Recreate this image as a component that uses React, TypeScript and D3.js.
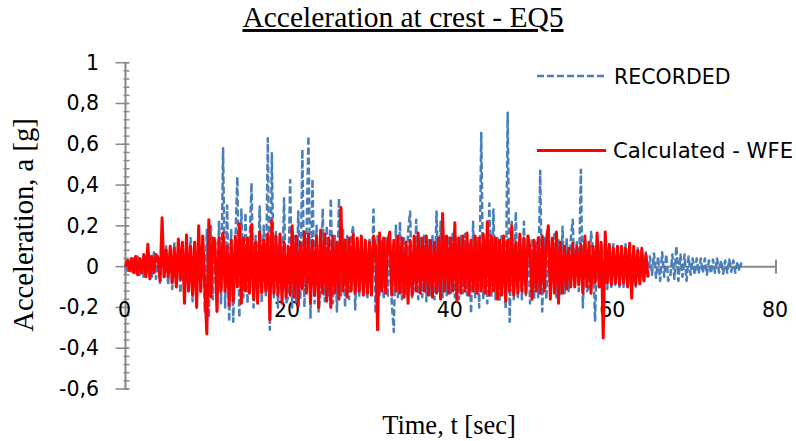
import * as d3 from "d3";

// sample step of both records, seconds
const dt = 0.25;

// recorded acceleration at crest [g], one row per second
const recorded = [
  0, -.02, .03, -.03,
  .04, -.03, .05, -.04,
  .04, -.06, .05, -.04,
  .06, -.05, .07, -.06,
  .05, -.08, .09, -.06,
  .1, -.09, .08, -.11,
  .12, -.1, .09, -.13,
  .11, -.15, .13, -.12,
  .14, -.17, .12, -.14,
  .16, -.13, .15, -.22,
  .18, -.25, .2, -.16,
  .15, -.2, .22, -.18,
  .58, -.2, .3, -.27,
  .18, -.27, .1, .44,
  -.25, .28, -.15, .265,
  -.18, .1, .41, -.2,
  .15, -.16, .295, -.18,
  .2, -.14, .63, -.31,
  .556, -.15, .17, -.2,
  .15, -.12, .335, -.18,
  -.15, .425, -.2, .15,
  -.18, .27, -.16, .575,
  -.2, .12, .64, -.25,
  .43, -.18, .2, -.22,
  -.12, .285, -.17, .2,
  -.15, .335, -.18, .15,
  -.22, .335, -.14, .18,
  -.2, .15, -.16, .14,
  .2, -.21, .13, -.15,
  .15, -.14, .12, -.16,
  .14, -.12, .28, -.23,
  .15, -.14, .13, -.16,
  .14, -.15, .12, -.18,
  -.32, .2, -.15, .22,
  -.16, .15, -.14, .17,
  .27, -.15, -.1, .23,
  -.16, .14, -.15, .16,
  -.17, .13, -.14, .15,
  -.16, .27, -.12, .22,
  -.15, .16, -.14, .15,
  -.13, .17, -.15, .14,
  -.16, .15, -.13, .16,
  -.14, .12, -.23, .22,
  -.15, .14, -.2, .66,
  -.16, .14, -.18, .31,
  -.15, .28, -.16, .14,
  -.17, .15, .1, -.21,
  .755, -.27, .22, -.16,
  .27, -.15, .14, -.16,
  .22, -.14, .15, -.18,
  .14, -.16, .13, -.15,
  .47, -.22, .14, -.16,
  .15, -.14, .12, .16,
  -.15, .13, -.14, .196,
  -.13, .14, -.12, .13,
  .23, -.1, .12, -.12,
  .475, -.2, .13, -.12,
  -.1, .17, .08, -.27,
  .12, -.1, .11, -.12,
  .1, -.11, .09, -.1,
  .11, -.09, .1, -.1,
  .09, -.1, .11, -.08,
  .1, -.09, .08, -.1,
  .09, -.08, .08, -.07,
  .07, -.05, .05, -.04,
  .065, -.055, .05, -.07,
  .07, -.05, .06, -.07,
  -.05, .06, -.06, .1,
  -.07, .06, -.05, .06,
  -.07, .05, -.04, .04,
  -.04, .04, -.035, .04,
  -.03, .04, -.04, .03,
  -.035, .035, -.03, .04,
  -.03, .03, -.035, .03,
  -.03, .035, -.025, .03,
  -.03, .025, -.02, .02,
];

// calculated - WFE [g]
const calculated = [
  0, .03, -.02, .04,
  -.03, .05, -.04, .04,
  -.03, .06, -.05, .11,
  -.06, .05, -.03, .06,
  .04, -.07, .24, -.05,
  .08, -.05, .1, -.08,
  .09, -.1, .135, -.06,
  .12, -.18, .155, -.12,
  .1, -.14, .12, -.2,
  .2, -.12, .15, -.1,
  -.33, .23, -.15, .14,
  .12, -.22, .14, -.12,
  .165, -.12, .1, -.19,
  .13, -.17, .15, -.1,
  .21, -.18, .14, -.12,
  .14, -.13, .205, -.16,
  .12, -.18, .17, -.13,
  .13, -.12, .16, -.26,
  .225, -.13, .15, -.14,
  .16, -.18, .12, -.15,
  .1, -.14, .2, -.15,
  .15, -.19, .12, -.11,
  .17, -.13, .16, -.18,
  .13, -.14, .15, -.2,
  .18, -.13, .16, -.17,
  .14, -.2, .15, -.13,
  .12, -.16, .29, -.12,
  .13, -.15, .14, -.12,
  .16, -.13, .14, -.12,
  .15, -.14, .13, -.13,
  .12, -.14, .15, .1,
  -.31, .165, -.12, .14,
  -.13, .12, .17, -.14,
  .13, -.12, .15, -.13,
  .14, -.15, .12, -.18,
  .13, -.14, .15, -.12,
  .165, -.13, .14, -.12,
  .15, -.14, .13, -.15,
  .12, -.13, .14, -.16,
  .26, -.12, .15, -.13,
  .14, -.12, .215, -.17,
  .14, -.13, .15, -.12,
  .165, -.14, .13, -.12,
  .15, -.13, .14, -.12,
  .16, -.13, .22, -.14,
  .15, -.12, .14, -.16,
  .13, -.14, .15, -.17,
  .13, -.12, .2, -.14,
  .12, -.13, .16, -.12,
  .14, -.13, .15, .09,
  -.16, .13, -.12, .14,
  -.13, .15, -.12, .13,
  .2, -.16, .14, -.13,
  .17, -.18, .12, -.13,
  .1, -.11, .09, -.1,
  .115, -.1, .1, -.09,
  .11, -.13, .15, -.1,
  .12, -.13, .1, -.08,
  .165, -.1, .12, -.35,
  .17, -.08, .11, -.09,
  .09, -.08, .1, -.09,
  .1, -.08, .09, -.1,
  .115, -.155, .1, -.09,
  .08, -.085, .09, -.07,
  .06, -.05,
];

const xTicks = [0, 20, 40, 60, 80];

const W = 796, H = 441;
const sans = "DejaVu Sans";
const serif = "Liberation Serif";
const axisColor = "#898989";

export default function App() {
  const x = d3.scaleLinear().domain([0, 80]).range([125.5, 776]);
  const y = d3.scaleLinear().domain([-0.6, 1]).range([389, 62.7]);

  const fmt = d3.formatLocale({ decimal: ",", thousands: ".", grouping: [3], currency: ["", ""], minus: "-" }).format(".1~f");

  const line = d3.line<number>()
    .x((d, i) => x(i * dt))
    .y(d => y(d));

  const yMajor = y.ticks(8);
  const yMinor = d3.range(-0.6, 1.0001, 0.04);

  return (
    <svg width={W} height={H} style={{ position: "absolute", left: 0, top: 0, background: "#fff" }}>
      <text x={403} y={27} textAnchor="middle" fontFamily={serif} fontSize={29.5} style={{ textDecoration: "underline" }}>
        Acceleration at crest - EQ5
      </text>

      {/* y axis */}
      <line x1={x(0)} x2={x(0)} y1={y(1)} y2={y(-0.6)} stroke={axisColor} strokeWidth={2} />
      {yMinor.map(v => (
        <line key={"m" + v} x1={x(0) - 2} x2={x(0) + 4} y1={y(v)} y2={y(v)} stroke={axisColor} strokeWidth={1.5} />
      ))}
      {yMajor.map(v => (
        <g key={"y" + v}>
          <line x1={x(0) - 10} x2={x(0) + 3} y1={y(v)} y2={y(v)} stroke={axisColor} strokeWidth={1.5} />
          <text x={99} y={y(v) + 7} textAnchor="end" fontFamily={sans} fontSize={20.5} fill="#000">{fmt(v)}</text>
        </g>
      ))}

      {/* x axis */}
      <line x1={x(0)} x2={x(80)} y1={y(0)} y2={y(0)} stroke={axisColor} strokeWidth={2} />
      {xTicks.map(v => (
        <g key={"x" + v}>
          <line x1={x(v)} x2={x(v)} y1={y(0) - 7} y2={y(0) + 7} stroke={axisColor} strokeWidth={2} />
          <text x={x(v) - 1} y={317} textAnchor="middle" fontFamily={sans} fontSize={20.5} fill="#000">{v}</text>
        </g>
      ))}

      <path d={line(recorded) ?? ""} fill="none" stroke="#4a7ebb" strokeWidth={2.5} strokeDasharray="7 3" strokeLinejoin="round" />
      <path d={line(calculated) ?? ""} fill="none" stroke="#ff0000" strokeWidth={3} strokeLinejoin="round" />

      {/* legend */}
      <line x1={537} x2={606} y1={76} y2={76} stroke="#4a7ebb" strokeWidth={2.5} strokeDasharray="7 3" />
      <text x={614} y={83.5} fontFamily={sans} fontSize={20.5}>RECORDED</text>
      <line x1={537} x2={606} y1={150.5} y2={150.5} stroke="#ff0000" strokeWidth={3} />
      <text x={613} y={158} fontFamily={sans} fontSize={21.2}>Calculated - WFE</text>

      <text transform="translate(33,225) rotate(-90)" textAnchor="middle" fontFamily={serif} fontSize={28.6}>
        Acceleration, a [g]
      </text>
      <text x={449} y={434} textAnchor="middle" fontFamily={serif} fontSize={26.5}>
        Time, t [sec]
      </text>
    </svg>
  );
}
